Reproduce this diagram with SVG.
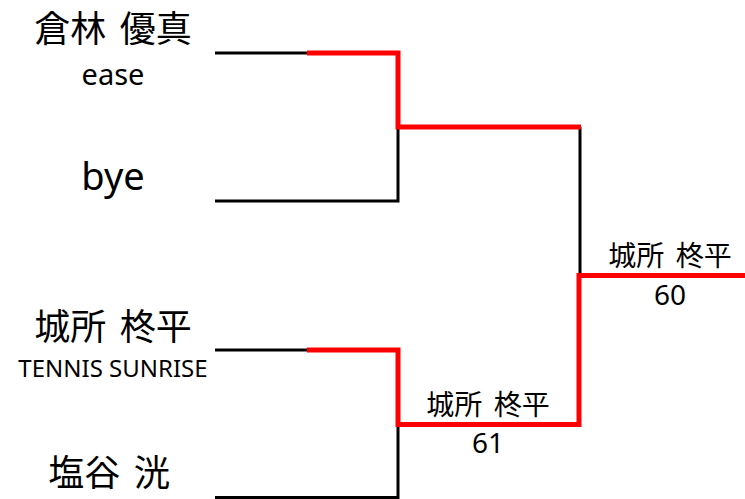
<svg xmlns="http://www.w3.org/2000/svg" width="745" height="499" viewBox="0 0 745 499">
<style>
text{font-family:"Noto Sans","Noto Sans CJK JP",sans-serif;fill:#000;text-anchor:middle}
.nm{font-size:36px;word-spacing:4px}
.sub{font-size:29px}
.team{font-size:24px}
.bye{font-size:38px}
.win{font-size:28px;word-spacing:4px}
.ln{fill:none;stroke:#000;stroke-width:3}
.rd{fill:none;stroke:#ff0000;stroke-width:5;stroke-linejoin:miter}
</style>
<rect width="745" height="499" fill="#fff"/>
<g id="connectors">
<path class="ln" d="M215,53 H308"/>
<path class="ln" d="M398,127 V201 H215"/>
<path class="ln" d="M215,350 H308"/>
<path class="ln" d="M398,425 V497.5 H215"/>
<path class="ln" d="M580,127 V275"/>
<path class="rd" d="M307,53 H398 V127 H581"/>
<path class="rd" d="M307,350 H398 V424.5 H579 V275.5 H745"/>
</g>
<g id="player1">
<text class="nm" x="113" y="42">倉林 優真</text>
<text class="sub" x="113" y="85">ease</text>
</g>
<g id="player2">
<text class="bye" x="113" y="190">bye</text>
</g>
<g id="player3">
<text class="nm" x="113" y="340">城所 柊平</text>
<text class="team" x="113" y="377">TENNIS SUNRISE</text>
</g>
<g id="player4">
<text class="nm" x="109" y="486">塩谷 洸</text>
</g>
<g id="match2">
<text class="win" x="488" y="415">城所 柊平</text>
<text class="win" x="488" y="453">61</text>
</g>
<g id="final">
<text class="win" x="670" y="266">城所 柊平</text>
<text class="win" x="670" y="305">60</text>
</g>
</svg>
